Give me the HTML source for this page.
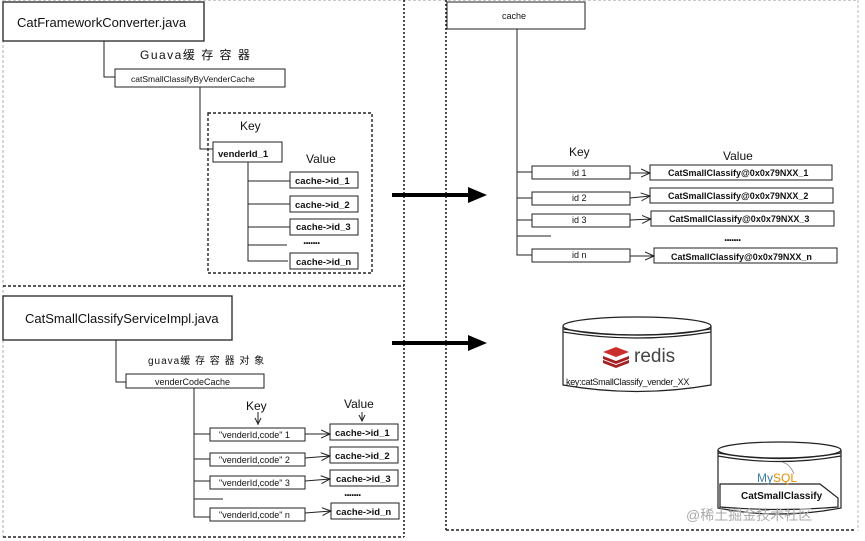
<!DOCTYPE html>
<html><head><meta charset="utf-8"><style>
html,body{margin:0;padding:0;background:#fff;}
svg{display:block;}
text{font-family:"Liberation Sans","Noto Sans CJK SC",sans-serif;fill:#111;}
.b{font-weight:bold;}
</style></head><body>
<svg width="865" height="541" viewBox="0 0 865 541" xmlns="http://www.w3.org/2000/svg">
<defs>
<marker id="oa" markerWidth="10" markerHeight="10" refX="9" refY="5" orient="auto" markerUnits="userSpaceOnUse"><path d="M0,1 L9,5 L0,9" fill="none" stroke="#222" stroke-width="1"/></marker>
</defs>
<g fill="none">
<line x1="3" y1="0" x2="3" y2="537" stroke="#999" stroke-width="0.8" stroke-dasharray="3,2"/>
<line x1="3" y1="0.5" x2="858" y2="0.5" stroke="#bbb" stroke-width="0.8" stroke-dasharray="3,2"/>
<line x1="3" y1="286" x2="404" y2="286" stroke="#222" stroke-width="1.6" stroke-dasharray="3,2"/>
<line x1="3" y1="537" x2="404" y2="537" stroke="#222" stroke-width="1.6" stroke-dasharray="3,2"/>
<line x1="404" y1="0" x2="404" y2="537" stroke="#222" stroke-width="1.6" stroke-dasharray="2,2"/>
<line x1="446" y1="0" x2="446" y2="531" stroke="#222" stroke-width="1.6" stroke-dasharray="2,2"/>
<line x1="446" y1="530" x2="855" y2="530" stroke="#222" stroke-width="1.6" stroke-dasharray="3,2"/>
<line x1="858" y1="0" x2="858" y2="531" stroke="#aaa" stroke-width="0.8" stroke-dasharray="3,2"/>
</g>
<g stroke="#222" stroke-width="1" fill="#fff">
<rect x="3" y="2" width="201" height="39" stroke-width="1.3"/>
<polyline points="104,41 104,77 115,77" fill="none"/>
<rect x="115" y="69" width="170" height="18"/>
<polyline points="200,87 200,149 215,149" fill="none"/>
<rect x="208" y="113" width="164" height="160" fill="none" stroke-width="1.4" stroke-dasharray="3,2"/>
<rect x="213" y="142" width="69" height="20"/>
<polyline points="248,162 248,261 288,261" fill="none"/>
<line x1="248" y1="181" x2="290" y2="181"/>
<line x1="248" y1="204" x2="290" y2="204"/>
<line x1="248" y1="227" x2="290" y2="227"/>
<line x1="248" y1="245" x2="287" y2="245"/>
<rect x="290" y="172" width="68" height="16"/>
<rect x="290" y="196" width="68" height="16"/>
<rect x="290" y="219" width="68" height="16"/>
<rect x="290" y="253" width="68" height="16"/>
<rect x="3" y="296" width="229" height="44" stroke-width="1.3"/>
<polyline points="116,340 116,382 126,382" fill="none"/>
<rect x="126" y="374" width="138" height="14"/>
<polyline points="194,388 194,517 210,517" fill="none"/>
<line x1="194" y1="434" x2="210" y2="434"/>
<line x1="194" y1="459" x2="210" y2="459"/>
<line x1="194" y1="481" x2="210" y2="481"/>
<line x1="194" y1="499" x2="223" y2="499"/>
<rect x="210" y="428" width="95" height="13"/>
<rect x="210" y="453" width="95" height="13"/>
<rect x="210" y="476" width="95" height="13"/>
<rect x="210" y="508" width="95" height="13"/>
<rect x="330" y="424" width="68" height="16"/>
<rect x="330" y="447" width="68" height="16"/>
<rect x="330" y="470" width="68" height="16"/>
<rect x="331" y="503" width="68" height="16"/>
<line x1="305" y1="434" x2="330" y2="434" marker-end="url(#oa)"/>
<line x1="305" y1="458" x2="330" y2="456" marker-end="url(#oa)"/>
<line x1="305" y1="481" x2="330" y2="479" marker-end="url(#oa)"/>
<line x1="305" y1="513" x2="331" y2="511" marker-end="url(#oa)"/>
<line x1="258" y1="412" x2="258" y2="425"/>
<polyline points="255,418 258,424 261,418" fill="none"/>
<line x1="362" y1="412" x2="362" y2="421"/>
<polyline points="359,415 362,421 365,415" fill="none"/>
<rect x="447" y="2" width="138" height="27"/>
<polyline points="517,29 517,255 532,255" fill="none"/>
<line x1="517" y1="172" x2="532" y2="172"/>
<line x1="517" y1="198" x2="532" y2="198"/>
<line x1="517" y1="220" x2="532" y2="220"/>
<line x1="517" y1="236" x2="551" y2="236"/>
<rect x="532" y="166" width="98" height="13"/>
<rect x="532" y="192" width="98" height="13"/>
<rect x="532" y="214" width="98" height="13"/>
<rect x="532" y="249" width="98" height="13"/>
<rect x="650" y="165" width="182" height="15"/>
<rect x="650" y="188" width="183" height="15"/>
<rect x="651" y="211" width="183" height="15"/>
<rect x="654" y="248" width="183" height="15"/>
<line x1="630" y1="173" x2="650" y2="173" marker-end="url(#oa)"/>
<line x1="630" y1="198" x2="650" y2="196" marker-end="url(#oa)"/>
<line x1="630" y1="220" x2="651" y2="219" marker-end="url(#oa)"/>
<line x1="630" y1="256" x2="654" y2="256" marker-end="url(#oa)"/>
</g>
<line x1="392" y1="195" x2="470" y2="195" stroke="#000" stroke-width="4"/>
<polygon points="468,187 487,195 468,203" fill="#000"/>
<line x1="392" y1="343" x2="470" y2="343" stroke="#000" stroke-width="4"/>
<polygon points="468,335 487,343 468,351" fill="#000"/>
<g stroke="#222" stroke-width="1.2" fill="#fff">
<path d="M563,326 L563,385 Q637,398 711,385 L711,326"/>
<ellipse cx="637" cy="326" rx="74" ry="9"/>
<path d="M563,329 Q637,341 711,329 M563,332 Q637,344 711,332" fill="none"/>
<path d="M718,450 L718,508 Q778,520 841,508 L841,450"/>
<ellipse cx="779.5" cy="450" rx="61.5" ry="8"/>
<path d="M718,453 Q779,464 841,453 M718,456 Q779,467 841,456" fill="none"/>
<path d="M720,484 L820,484 L838,498 L838,507 Q779,512 720,507 Z"/>
</g>
<g fill="#c9302c">
<path d="M603,352 l13,-5 l13,5 l-13,5z"/>
<path d="M603,356 l13,5 l13,-5 l0,3 l-13,5 l-13,-5z" fill="#a41e22"/>
<path d="M603,360 l13,5 l13,-5 l0,3 l-13,5 l-13,-5z" fill="#a41e22"/>
</g>
<text x="634" y="362" font-size="19" style="fill:#444">redis</text>
<text x="566" y="385" font-size="9" style="letter-spacing:-0.3px">key:catSmallClassify_vender_XX</text>
<text x="757" y="482" font-size="12" style="fill:#3d7ea6">My<tspan style="fill:#e48e00">SQL</tspan></text>
<path d="M782,462 q8,2 12,12" fill="none" stroke="#888" stroke-width="0.8"/>
<text x="741" y="499" font-size="10" class="b">CatSmallClassify</text>
<text x="17" y="27" font-size="13">CatFrameworkConverter.java</text>
<text x="140" y="59" font-size="12" style="letter-spacing:1.5px">Guava缓 存 容 器</text>
<text x="131" y="82" font-size="8.5">catSmallClassifyByVenderCache</text>
<text x="240" y="130" font-size="12">Key</text>
<text x="218" y="157" font-size="9.5" class="b">venderId_1</text>
<text x="306" y="163" font-size="12">Value</text>
<text x="295" y="184" font-size="9.5" class="b">cache-&gt;id_1</text>
<text x="295" y="208" font-size="9.5" class="b">cache-&gt;id_2</text>
<text x="296" y="230" font-size="9.5" class="b">cache-&gt;id_3</text>
<text x="303" y="244" font-size="12" class="b" style="letter-spacing:-1px">.......</text>
<text x="296" y="265" font-size="9.5" class="b">cache-&gt;id_n</text>
<text x="25" y="323" font-size="13">CatSmallClassifyServiceImpl.java</text>
<text x="148" y="364" font-size="10" style="letter-spacing:1px">guava缓 存 容 器 对 象</text>
<text x="155" y="385" font-size="9">venderCodeCache</text>
<text x="246" y="410" font-size="12">Key</text>
<text x="344" y="408" font-size="12">Value</text>
<text x="219" y="438" font-size="9">"venderId,code" 1</text>
<text x="219" y="463" font-size="9">"venderId,code" 2</text>
<text x="219" y="486" font-size="9">"venderId,code" 3</text>
<text x="219" y="518" font-size="9">"venderId,code" n</text>
<text x="335" y="436" font-size="9.5" class="b">cache-&gt;id_1</text>
<text x="335" y="459" font-size="9.5" class="b">cache-&gt;id_2</text>
<text x="336" y="482" font-size="9.5" class="b">cache-&gt;id_3</text>
<text x="344" y="496" font-size="12" class="b" style="letter-spacing:-1px">.......</text>
<text x="336" y="515" font-size="9.5" class="b">cache-&gt;id_n</text>
<text x="502" y="19" font-size="9">cache</text>
<text x="569" y="156" font-size="12">Key</text>
<text x="723" y="160" font-size="12">Value</text>
<text x="572" y="176" font-size="9">id 1</text>
<text x="572" y="201" font-size="9">id 2</text>
<text x="572" y="223" font-size="9">id 3</text>
<text x="572" y="258" font-size="9">id n</text>
<text x="668" y="176" font-size="9" class="b">CatSmallClassify@0x0x79NXX_1</text>
<text x="668" y="199" font-size="9" class="b">CatSmallClassify@0x0x79NXX_2</text>
<text x="669" y="222" font-size="9" class="b">CatSmallClassify@0x0x79NXX_3</text>
<text x="724" y="241" font-size="12" class="b" style="letter-spacing:-1px">.......</text>
<text x="671" y="260" font-size="9" class="b">CatSmallClassify@0x0x79NXX_n</text>
<text x="686" y="520" font-size="14" style="fill:#aaa">@稀土掘金技术社区</text>
</svg>
</body></html>
